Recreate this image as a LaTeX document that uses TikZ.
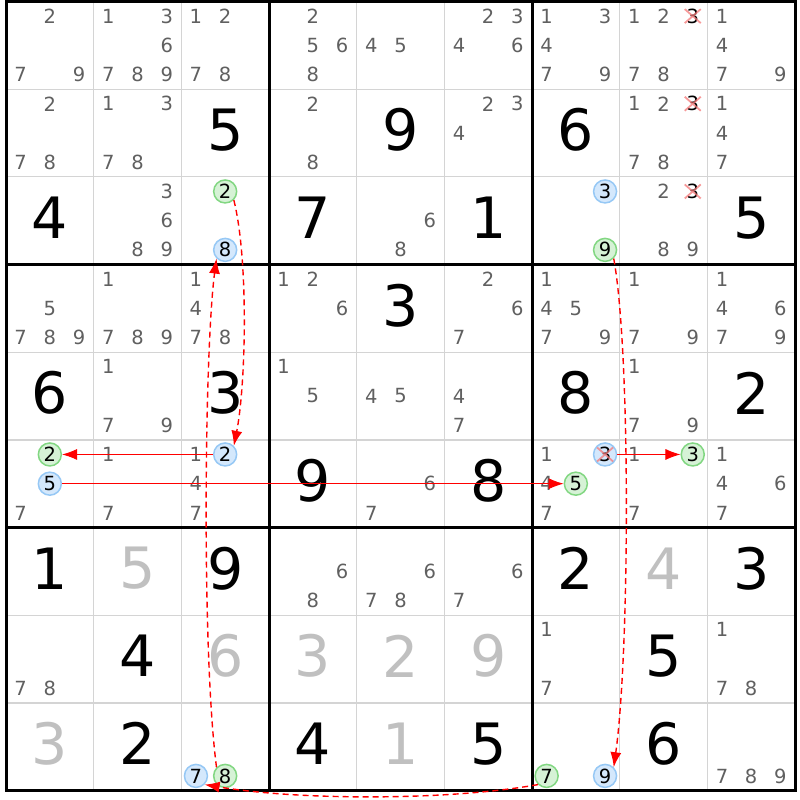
\documentclass[tikz,border=0pt]{standalone}
\usepackage{fontspec}
\setmainfont{DejaVu Sans}
\usetikzlibrary{arrows.meta}
\definecolor{candc}{RGB}{96,96,96}
\definecolor{solvedg}{RGB}{192,192,192}
\definecolor{gridl}{RGB}{212,212,212}
\definecolor{gfill}{RGB}{214,242,214}
\definecolor{gline}{RGB}{130,215,130}
\definecolor{bfill}{RGB}{212,232,252}
\definecolor{bline}{RGB}{150,200,245}
\definecolor{xcol}{RGB}{245,120,120}
\newcommand\cellxy[3]{%
 \pgfmathsetmacro\px{6+(#2-1)*87.67+(mod(#3-1,3)+0.5)*29.22}%
 \pgfmathsetmacro\py{1.5+(#1-1)*87.67+(floor((#3-1)/3)+0.5)*29.22}}
\newcommand\cands[3]{\foreach \k in {#3}{\cellxy{#1}{#2}{\k}\node[cand] (c-#1-#2-\k) at (\px,\py) {\k};}}
\newcommand\gcand[3]{\cellxy{#1}{#2}{#3}\node[gcirc] (c-#1-#2-#3) at (\px,\py) {#3};}
\newcommand\bcand[3]{\cellxy{#1}{#2}{#3}\node[bcirc] (c-#1-#2-#3) at (\px,\py) {#3};}
\newcommand\xcand[3]{\cellxy{#1}{#2}{#3}\node[cand,text=black] (c-#1-#2-#3) at (\px,\py) {#3};}
\newcommand\xover[3]{\draw[xcol, line width=1.8pt, opacity=0.75] ([shift={(-8,-7)}]c-#1-#2-#3.center) -- ([shift={(8,7)}]c-#1-#2-#3.center) ([shift={(-8,7)}]c-#1-#2-#3.center) -- ([shift={(8,-7)}]c-#1-#2-#3.center);}
\newcommand\giv[3]{\pgfmathsetmacro\px{6+(#2-0.5)*87.67}\pgfmathsetmacro\py{1.5+(#1-0.5)*87.67-3}\node[bigdigit] (g-#1-#2) at (\px,\py) {#3};}
\newcommand\givg[3]{\pgfmathsetmacro\px{6+(#2-0.5)*87.67}\pgfmathsetmacro\py{1.5+(#1-0.5)*87.67-3}\node[bigdigit,text=solvedg] (g-#1-#2) at (\px,\py) {#3};}
\begin{document}
\begin{tikzpicture}[x=1pt,y=-1pt,
 cand/.style={font=\fontsize{19.5}{20}\selectfont, text=candc, inner sep=0pt},
 bigdigit/.style={font=\fontsize{57}{60}\selectfont, text=black, inner sep=0pt},
 circbase/.style={circle, line width=1.5pt, minimum size=23pt, inner sep=0pt, text=black, font=\fontsize{19.5}{20}\selectfont},
 gcirc/.style={circbase, draw=gline, fill=gfill},
 bcirc/.style={circbase, draw=bline, fill=bfill},
 solidarrow/.style={red, line width=0.9pt, -{Latex[length=15pt,width=11pt]}},
 dasharrow/.style={red, line width=1.4pt, dash pattern=on 6pt off 4pt, -{Latex[length=15pt,width=11pt]}},
 thinline/.style={gridl, line width=1.3pt},
 thickline/.style={black, line width=3pt}]
\useasboundingbox (0,0) rectangle (800,800);
\fill[white] (0,0) rectangle (800,800);
% grid
\foreach \i in {1,2,4,5,7,8}{
 \draw[thinline] ({6+\i*87.67},1.5) -- ({6+\i*87.67},{1.5+9*87.67});
 \draw[thinline] (6,{1.5+\i*87.67}) -- ({6+9*87.67},{1.5+\i*87.67});}
\foreach \i in {3,6}{
 \draw[thickline] ({6+\i*87.67},1.5) -- ({6+\i*87.67},{1.5+9*87.67});
 \draw[thickline] (6,{1.5+\i*87.67}) -- ({6+9*87.67},{1.5+\i*87.67});}
\draw[thickline] (6,1.5) rectangle ({6+9*87.67},{1.5+9*87.67});
% row 1
\cands{1}{1}{2,7,9}\cands{1}{2}{1,3,6,7,8,9}\cands{1}{3}{1,2,7,8}\cands{1}{4}{2,5,6,8}
\cands{1}{5}{4,5}\cands{1}{6}{2,3,4,6}\cands{1}{7}{1,3,4,7,9}\cands{1}{8}{1,2,7,8}\xcand{1}{8}{3}
\cands{1}{9}{1,4,7,9}
% row 2
\cands{2}{1}{2,7,8}\cands{2}{2}{1,3,7,8}\giv{2}{3}{5}\cands{2}{4}{2,8}\giv{2}{5}{9}
\cands{2}{6}{2,3,4}\giv{2}{7}{6}\cands{2}{8}{1,2,7,8}\xcand{2}{8}{3}\cands{2}{9}{1,4,7}
% row 3
\giv{3}{1}{4}\cands{3}{2}{3,6,8,9}\gcand{3}{3}{2}\bcand{3}{3}{8}\giv{3}{4}{7}\cands{3}{5}{6,8}
\giv{3}{6}{1}\bcand{3}{7}{3}\gcand{3}{7}{9}\cands{3}{8}{2,8,9}\xcand{3}{8}{3}\giv{3}{9}{5}
% row 4
\cands{4}{1}{5,7,8,9}\cands{4}{2}{1,7,8,9}\cands{4}{3}{1,4,7,8}\cands{4}{4}{1,2,6}\giv{4}{5}{3}
\cands{4}{6}{2,6,7}\cands{4}{7}{1,4,5,7,9}\cands{4}{8}{1,7,9}\cands{4}{9}{1,4,6,7,9}
% row 5
\giv{5}{1}{6}\cands{5}{2}{1,7,9}\giv{5}{3}{3}\cands{5}{4}{1,5}\cands{5}{5}{4,5}\cands{5}{6}{4,7}
\giv{5}{7}{8}\cands{5}{8}{1,7,9}\giv{5}{9}{2}
% row 6
\gcand{6}{1}{2}\bcand{6}{1}{5}\cands{6}{1}{7}\cands{6}{2}{1,7}\cands{6}{3}{1,4,7}\bcand{6}{3}{2}
\giv{6}{4}{9}\cands{6}{5}{6,7}\giv{6}{6}{8}\cands{6}{7}{1,4,7}\bcand{6}{7}{3}\gcand{6}{7}{5}
\cands{6}{8}{1,7}\gcand{6}{8}{3}\cands{6}{9}{1,4,6,7}
% row 7
\giv{7}{1}{1}\givg{7}{2}{5}\giv{7}{3}{9}\cands{7}{4}{6,8}\cands{7}{5}{6,7,8}\cands{7}{6}{6,7}
\giv{7}{7}{2}\givg{7}{8}{4}\giv{7}{9}{3}
% row 8
\cands{8}{1}{7,8}\giv{8}{2}{4}\givg{8}{3}{6}\givg{8}{4}{3}\givg{8}{5}{2}\givg{8}{6}{9}
\cands{8}{7}{1,7}\giv{8}{8}{5}\cands{8}{9}{1,7,8}
% row 9
\givg{9}{1}{3}\giv{9}{2}{2}\bcand{9}{3}{7}\gcand{9}{3}{8}\giv{9}{4}{4}\givg{9}{5}{1}\giv{9}{6}{5}
\gcand{9}{7}{7}\bcand{9}{7}{9}\giv{9}{8}{6}\cands{9}{9}{7,8,9}
% crosses
\xover{1}{8}{3}\xover{2}{8}{3}\xover{3}{8}{3}\xover{6}{7}{3}
% arrows
\draw[dasharrow] (c-3-3-2.south east) .. controls +(15,60) and +(12,-60) .. (c-6-3-2.north east);
\draw[solidarrow] (c-6-3-2.west) -- (c-6-1-2.east);
\draw[solidarrow] (c-6-1-5.east) -- (c-6-7-5.west);
\draw[solidarrow] (c-6-7-3.east) -- (c-6-8-3.west);
\draw[dasharrow] (c-3-7-9.south east) .. controls +(17,93) and +(16,-115) .. (c-9-7-9.north east);
\draw[dasharrow] (c-9-7-7.south west) .. controls +(-89,16) and +(96,16) .. (c-9-3-7.south east);
\draw[dasharrow] (c-9-3-8.north west) .. controls +(-15,-115) and +(-12,90) .. (c-3-3-8.south west);
\end{tikzpicture}
\end{document}
